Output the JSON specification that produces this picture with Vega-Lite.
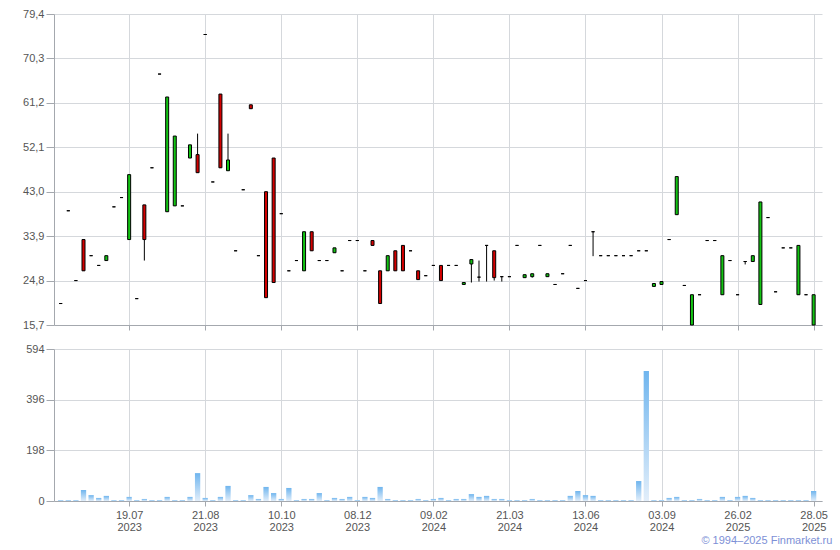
{
  "$schema": "https://vega.github.io/schema/vega-lite/v6.json",
  "background": "white",
  "padding": {"left": 22, "top": 8, "right": 0, "bottom": 0},
  "spacing": 24,
  "bounds": "flush",
  "resolve": {"scale": {"x": "independent", "y": "independent"}},
  "config": {
    "view": {"stroke": null},
    "axis": {
      "labelFont": "Liberation Sans",
      "labelFontSize": 11,
      "labelColor": "#555555",
      "domainColor": "#a4a8ae",
      "tickColor": "#a4a8ae",
      "gridColor": "#d5d8dc",
      "title": null,
      "labelFlush": false
    }
  },
  "data": {"values": [
    {"i":0,"o":20.1,"c":20.1,"h":20.1,"l":20.1,"v":4},
    {"i":1,"o":39.1,"c":39.1,"h":39.1,"l":39.1,"v":4},
    {"i":2,"o":24.8,"c":24.8,"h":24.8,"l":24.8,"v":4},
    {"i":3,"o":33.2,"c":26.8,"h":33.2,"l":26.8,"v":43},
    {"i":4,"o":29.9,"c":29.9,"h":29.9,"l":29.9,"v":23},
    {"i":5,"o":27.9,"c":27.9,"h":27.9,"l":27.9,"v":12},
    {"i":6,"o":28.9,"c":29.9,"h":29.9,"l":28.9,"v":20},
    {"i":7,"o":39.9,"c":39.9,"h":39.9,"l":39.9,"v":4},
    {"i":8,"o":41.8,"c":41.8,"h":41.8,"l":41.8,"v":4},
    {"i":9,"o":33.2,"c":46.5,"h":46.5,"l":33.2,"v":16},
    {"i":10,"o":21.1,"c":21.1,"h":21.1,"l":21.1,"v":4},
    {"i":11,"o":40.3,"c":33.2,"h":40.3,"l":28.9,"v":8},
    {"i":12,"o":47.9,"c":47.9,"h":47.9,"l":47.9,"v":4},
    {"i":13,"o":67.1,"c":67.1,"h":67.1,"l":67.1,"v":4},
    {"i":14,"o":38.9,"c":62.4,"h":62.4,"l":38.9,"v":16},
    {"i":15,"o":40.1,"c":54.4,"h":54.4,"l":40.1,"v":4},
    {"i":16,"o":40.1,"c":40.1,"h":40.1,"l":40.1,"v":4},
    {"i":17,"o":49.9,"c":52.6,"h":52.6,"l":49.9,"v":16},
    {"i":18,"o":50.6,"c":46.9,"h":54.9,"l":46.9,"v":109},
    {"i":19,"o":75.2,"c":75.2,"h":75.2,"l":75.2,"v":12},
    {"i":20,"o":45.0,"c":45.0,"h":45.0,"l":45.0,"v":4},
    {"i":21,"o":63.0,"c":47.9,"h":63.0,"l":47.9,"v":16},
    {"i":22,"o":47.3,"c":49.5,"h":54.9,"l":47.3,"v":59},
    {"i":23,"o":30.9,"c":30.9,"h":30.9,"l":30.9,"v":4},
    {"i":24,"o":43.4,"c":43.4,"h":43.4,"l":43.4,"v":4},
    {"i":25,"o":60.8,"c":60.0,"h":60.8,"l":60.0,"v":23},
    {"i":26,"o":29.9,"c":29.9,"h":29.9,"l":29.9,"v":8},
    {"i":27,"o":43.0,"c":21.3,"h":43.0,"l":21.3,"v":55},
    {"i":28,"o":49.9,"c":24.4,"h":49.9,"l":24.4,"v":31},
    {"i":29,"o":38.5,"c":38.5,"h":38.5,"l":38.5,"v":8},
    {"i":30,"o":26.8,"c":26.8,"h":26.8,"l":26.8,"v":51},
    {"i":31,"o":28.9,"c":28.9,"h":28.9,"l":28.9,"v":4},
    {"i":32,"o":26.8,"c":34.8,"h":34.8,"l":26.8,"v":8},
    {"i":33,"o":34.8,"c":30.9,"h":34.8,"l":30.9,"v":8},
    {"i":34,"o":28.9,"c":28.9,"h":28.9,"l":28.9,"v":31},
    {"i":35,"o":28.9,"c":28.9,"h":28.9,"l":28.9,"v":4},
    {"i":36,"o":30.5,"c":31.5,"h":31.5,"l":30.5,"v":12},
    {"i":37,"o":26.8,"c":26.8,"h":26.8,"l":26.8,"v":8},
    {"i":38,"o":33.0,"c":33.0,"h":33.0,"l":33.0,"v":16},
    {"i":39,"o":33.0,"c":33.0,"h":33.0,"l":33.0,"v":4},
    {"i":40,"o":26.8,"c":26.8,"h":26.8,"l":26.8,"v":16},
    {"i":41,"o":33.0,"c":32.0,"h":33.0,"l":32.0,"v":12},
    {"i":42,"o":26.8,"c":20.1,"h":26.8,"l":20.1,"v":55},
    {"i":43,"o":26.8,"c":29.9,"h":29.9,"l":26.8,"v":8},
    {"i":44,"o":30.9,"c":26.8,"h":30.9,"l":26.8,"v":4},
    {"i":45,"o":32.0,"c":26.8,"h":32.0,"l":26.8,"v":4},
    {"i":46,"o":30.9,"c":30.9,"h":30.9,"l":30.9,"v":4},
    {"i":47,"o":26.8,"c":25.0,"h":26.8,"l":25.0,"v":8},
    {"i":48,"o":25.8,"c":25.8,"h":25.8,"l":25.8,"v":4},
    {"i":49,"o":27.9,"c":27.9,"h":27.9,"l":27.9,"v":8},
    {"i":50,"o":27.9,"c":24.8,"h":27.9,"l":24.8,"v":12},
    {"i":51,"o":27.9,"c":27.9,"h":27.9,"l":27.9,"v":4},
    {"i":52,"o":27.9,"c":27.9,"h":27.9,"l":27.9,"v":8},
    {"i":53,"o":24.0,"c":24.4,"h":24.4,"l":24.0,"v":8},
    {"i":54,"o":28.2,"c":29.1,"h":29.1,"l":24.4,"v":27},
    {"i":55,"o":25.5,"c":25.5,"h":28.9,"l":24.6,"v":16},
    {"i":56,"o":32.0,"c":32.0,"h":32.0,"l":24.6,"v":20},
    {"i":57,"o":30.9,"c":25.4,"h":30.9,"l":24.8,"v":8},
    {"i":58,"o":25.6,"c":25.6,"h":25.6,"l":24.6,"v":8},
    {"i":59,"o":25.6,"c":25.6,"h":25.6,"l":25.6,"v":4},
    {"i":60,"o":32.0,"c":32.0,"h":32.0,"l":32.0,"v":4},
    {"i":61,"o":25.4,"c":26.0,"h":26.0,"l":25.4,"v":4},
    {"i":62,"o":25.6,"c":26.2,"h":26.2,"l":25.4,"v":8},
    {"i":63,"o":32.0,"c":32.0,"h":32.0,"l":32.0,"v":4},
    {"i":64,"o":25.6,"c":26.2,"h":26.2,"l":25.6,"v":4},
    {"i":65,"o":24.0,"c":24.0,"h":24.0,"l":24.0,"v":4},
    {"i":66,"o":26.2,"c":26.2,"h":26.2,"l":26.2,"v":4},
    {"i":67,"o":32.0,"c":32.0,"h":32.0,"l":32.0,"v":20},
    {"i":68,"o":23.2,"c":23.2,"h":23.2,"l":23.2,"v":39},
    {"i":69,"o":24.8,"c":24.8,"h":24.8,"l":24.8,"v":23},
    {"i":70,"o":34.8,"c":34.8,"h":34.8,"l":29.8,"v":20},
    {"i":71,"o":29.9,"c":29.9,"h":29.9,"l":29.9,"v":4},
    {"i":72,"o":29.9,"c":29.9,"h":29.9,"l":29.9,"v":4},
    {"i":73,"o":29.9,"c":29.9,"h":29.9,"l":29.9,"v":4},
    {"i":74,"o":29.9,"c":29.9,"h":29.9,"l":29.9,"v":4},
    {"i":75,"o":29.9,"c":29.9,"h":29.9,"l":29.9,"v":4},
    {"i":76,"o":30.9,"c":30.9,"h":30.9,"l":30.9,"v":78},
    {"i":77,"o":30.9,"c":30.9,"h":30.9,"l":30.9,"v":508},
    {"i":78,"o":23.6,"c":24.2,"h":24.2,"l":23.6,"v":4},
    {"i":79,"o":24.0,"c":24.6,"h":24.6,"l":24.0,"v":4},
    {"i":80,"o":33.2,"c":33.2,"h":33.2,"l":33.2,"v":12},
    {"i":81,"o":38.3,"c":46.1,"h":46.1,"l":38.3,"v":16},
    {"i":82,"o":23.8,"c":23.8,"h":23.8,"l":23.8,"v":4},
    {"i":83,"o":15.7,"c":21.9,"h":21.9,"l":15.7,"v":4},
    {"i":84,"o":21.9,"c":21.9,"h":21.9,"l":21.9,"v":8},
    {"i":85,"o":33.0,"c":33.0,"h":33.0,"l":33.0,"v":4},
    {"i":86,"o":33.0,"c":33.0,"h":33.0,"l":33.0,"v":4},
    {"i":87,"o":21.9,"c":29.9,"h":29.9,"l":21.9,"v":16},
    {"i":88,"o":28.9,"c":28.9,"h":28.9,"l":28.9,"v":4},
    {"i":89,"o":21.9,"c":21.9,"h":21.9,"l":21.9,"v":16},
    {"i":90,"o":28.7,"c":28.7,"h":28.7,"l":28.1,"v":20},
    {"i":91,"o":28.7,"c":29.9,"h":29.9,"l":28.7,"v":12},
    {"i":92,"o":19.9,"c":40.9,"h":40.9,"l":19.9,"v":4},
    {"i":93,"o":37.7,"c":37.7,"h":37.7,"l":37.7,"v":4},
    {"i":94,"o":22.5,"c":22.5,"h":22.5,"l":22.5,"v":4},
    {"i":95,"o":31.5,"c":31.5,"h":31.5,"l":31.5,"v":4},
    {"i":96,"o":31.5,"c":31.5,"h":31.5,"l":31.5,"v":4},
    {"i":97,"o":21.9,"c":32.0,"h":32.0,"l":21.9,"v":4},
    {"i":98,"o":21.9,"c":21.9,"h":21.9,"l":21.9,"v":4},
    {"i":99,"o":15.7,"c":21.9,"h":21.9,"l":15.7,"v":39}
  ]},
  "vconcat": [
    {
      "width": 768,
      "height": 311,
      "encoding": {
        "x": {
          "field": "i", "type": "quantitative",
          "scale": {"domain": [-0.88, 100.1], "nice": false, "zero": false, "padding": 0},
          "axis": {"values": [9, 19, 29, 39, 49, 59, 69, 79, 89, 99], "labels": false, "tickSize": 5, "grid": true}
        }
      },
      "layer": [
        {
          "mark": {"type": "rule", "color": "black", "strokeWidth": 1},
          "encoding": {
            "y": {
              "field": "l", "type": "quantitative",
              "scale": {"domain": [15.7, 79.4], "nice": false, "zero": false},
              "axis": {
                "values": [15.7, 24.8, 33.9, 43.0, 52.1, 61.2, 70.3, 79.4],
                "labelExpr": "replace(format(datum.value, '.1f'), '.', ',')",
                "tickSize": 8, "labelPadding": 2, "grid": true
              }
            },
            "y2": {"field": "h"}
          }
        },
        {
          "mark": {"type": "bar", "width": 3, "stroke": "black", "strokeWidth": 1},
          "encoding": {
            "y": {"field": "o", "type": "quantitative"},
            "y2": {"field": "c"},
            "fill": {"condition": {"test": "datum.c > datum.o", "value": "#12c412"}, "value": "#d40000"}
          }
        }
      ]
    },
    {
      "width": 768,
      "height": 152,
      "title": {
        "text": "© 1994–2025 Finmarket.ru",
        "orient": "bottom", "anchor": "end",
        "font": "Liberation Sans", "fontSize": 11, "fontWeight": "normal",
        "color": "#7d90d6", "dx": 5, "offset": 3
      },
      "mark": {
        "type": "bar", "width": 5.3,
        "color": {
          "gradient": "linear", "x1": 0, "y1": 0, "x2": 0, "y2": 1,
          "stops": [{"offset": 0, "color": "#6fb5ee"}, {"offset": 1, "color": "#e2eefa"}]
        }
      },
      "encoding": {
        "x": {
          "field": "i", "type": "quantitative",
          "scale": {"domain": [-0.88, 100.1], "nice": false, "zero": false, "padding": 0},
          "axis": {
            "values": [9, 19, 29, 39, 49, 59, 69, 79, 89, 99],
            "labelExpr": "[['19.07','2023'],['21.08','2023'],['10.10','2023'],['08.12','2023'],['09.02','2024'],['21.03','2024'],['13.06','2024'],['03.09','2024'],['26.02','2025'],['28.05','2025']][round((datum.value - 9) / 10)]",
            "labelLineHeight": 12,
            "tickSize": 5, "labelPadding": 3, "grid": true
          }
        },
        "y": {
          "field": "v", "type": "quantitative",
          "scale": {"domain": [0, 594], "nice": false},
          "axis": {"values": [0, 198, 396, 594], "tickSize": 8, "labelPadding": 2, "grid": true}
        }
      }
    }
  ]
}
